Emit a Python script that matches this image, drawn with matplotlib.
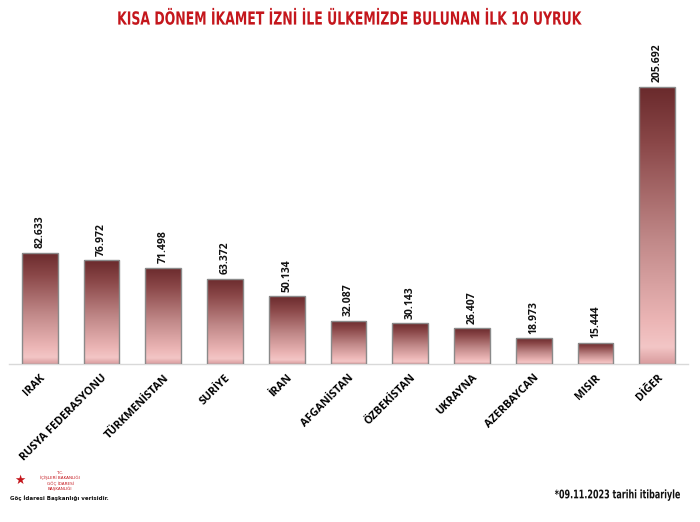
import numpy as np
import matplotlib.pyplot as plt
from matplotlib.colors import LinearSegmentedColormap
from matplotlib.textpath import TextPath
from matplotlib.patches import PathPatch
from matplotlib.font_manager import FontProperties
from matplotlib.transforms import Affine2D

# data
countries = ["IRAK", "RUSYA FEDERASYONU", "TÜRKMENİSTAN", "SURİYE", "İRAN",
             "AFGANİSTAN", "ÖZBEKİSTAN", "UKRAYNA", "AZERBAYCAN", "MISIR", "DİĞER"]
values = [82633, 76972, 71498, 63372, 50134, 32087, 30143, 26407, 18973, 15444, 205692]

title = "KISA DÖNEM İKAMET İZNİ İLE ÜLKEMİZDE BULUNAN İLK 10 UYRUK"
note = "*09.11.2023 tarihi itibariyle"

W, H = 700, 522
fig = plt.figure(figsize=(W / 100, H / 100), dpi=100)
ax = fig.add_axes([9/W, 158/H, 679/W, 324/H])


def condensed_text(s, x_px, y_px, size, color, squeeze=0.72, ha="center"):
    # text drawn as a path squeezed horizontally, positioned in figure pixels
    fp = FontProperties(family="DejaVu Sans", weight="bold")
    tp = TextPath((0, 0), s, size=size, prop=fp)
    bb = tp.get_extents()
    sc = 100 / 72
    w = bb.width * sc * squeeze
    h_cap = size * sc * 0.73
    x0 = x_px - w / 2 if ha == "center" else x_px - w
    tr = (Affine2D().translate(-bb.x0, 0).scale(sc * squeeze, sc)
          .translate(x0, H - y_px - h_cap / 2))
    fig.patches.append(PathPatch(tr.transform_path(tp), facecolor=color, edgecolor="none",
                                 transform=None, figure=fig))


x = np.arange(len(countries))
bars = ax.bar(x, values, width=0.58, color="none", edgecolor="#8a8a8a", linewidth=1.0, zorder=3)

# vertical gradient for each bar (dark top -> light pink near bottom)
grad_cmap = LinearSegmentedColormap.from_list(
    "bar", [(0.0, "#d99c9e"), (0.06, "#f3c6c6"), (0.15, "#ecb6b6"),
            (0.45, "#c08888"), (0.8, "#8a4748"), (1.0, "#6a2a2c")])
g = np.linspace(0, 1, 256).reshape(-1, 1)
for b in bars:
    x0, y0 = b.get_x(), b.get_y()
    w, h = b.get_width(), b.get_height()
    im = ax.imshow(g, cmap=grad_cmap, aspect="auto", origin="lower",
                   extent=[x0, x0 + w, y0, y0 + h], zorder=2)
    im.set_clip_path(b)

for xi, v in zip(x, values):
    ax.text(xi, v + 3500, f"{v:,}".replace(",", "."), rotation=90, ha="center", va="bottom",
            fontsize=7.5, fontweight="bold", family="Open Sans", color="#111111")

ax.set_xlim(-0.5, len(countries) - 0.5)
ax.set_ylim(0, 240600)
ax.set_xticks(x)
ax.set_xticklabels(countries, rotation=45, ha="right", rotation_mode="anchor",
                   fontsize=7.8, fontweight="bold", family="Open Sans")
ax.tick_params(axis="x", length=0, pad=6)
ax.set_yticks([])
for s in ["top", "right", "left"]:
    ax.spines[s].set_visible(False)
ax.spines["bottom"].set_color("#d9d9d9")
ax.spines["bottom"].set_linewidth(1.0)

condensed_text(title, 350, 18, 13, "#c4161c", squeeze=0.69)
condensed_text(note, 680, 494, 8.5, "#111111", squeeze=0.68, ha="right")

# logo stand-in
fig.text(20/W, 1 - 480/H, "★", color="#c4161c", fontsize=9, ha="center", va="center")
fig.text(60/W, 1 - 481/H, "T.C.\nİÇİŞLERİ BAKANLIĞI\nGÖÇ İDARESİ\nBAŞKANLIĞI", color="#c4161c",
         fontsize=3, ha="center", va="center", linespacing=1.1)
fig.text(10/W, 1 - 498/H, "Göç İdaresi Başkanlığı verisidir.", color="#111111",
         fontsize=4, fontweight="bold", ha="left", va="center")

fig.savefig("out.png", dpi=100)
